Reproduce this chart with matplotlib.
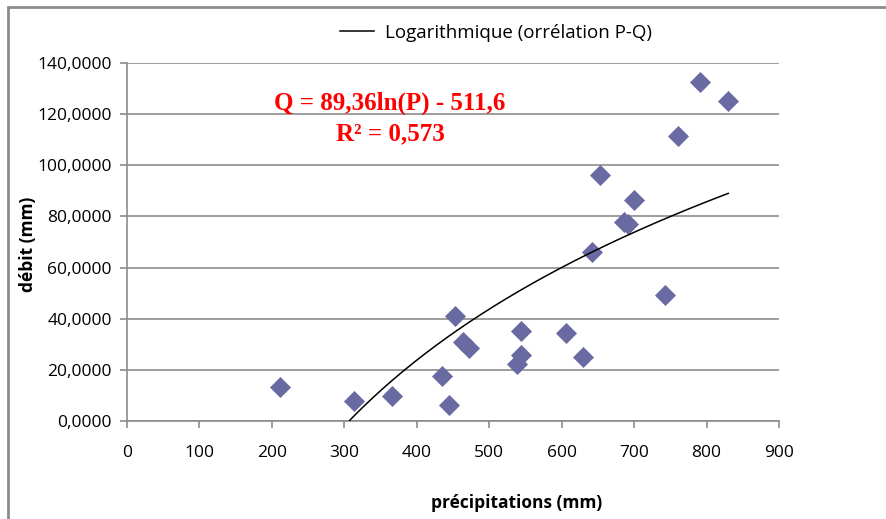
import numpy as np
import matplotlib
matplotlib.use("Agg")
import matplotlib.pyplot as plt
from matplotlib.patches import Rectangle
from matplotlib.ticker import FuncFormatter

# Data
precip = [211, 313, 366, 435, 445, 453, 464, 472, 538, 544, 544, 606, 630, 642, 653, 686, 692, 700, 743, 761, 791, 830]
debit = [13.3, 7.8, 9.8, 17.6, 6.3, 41.1, 30.9, 28.5, 22.3, 25.8, 35.2, 34.4, 25.0, 66.1, 96.2, 77.8, 77.1, 86.4, 49.3, 111.5, 132.6, 125.1]
coef_a = 89.36
coef_b = -511.6
x_ticks = [0, 100, 200, 300, 400, 500, 600, 700, 800, 900]
y_ticks = [0, 20, 40, 60, 80, 100, 120, 140]

plt.rcParams['font.family'] = ['Open Sans', 'DejaVu Sans']

fig = plt.figure(figsize=(8.87, 5.19), dpi=100)
ax = fig.add_axes([127/887, 1-421/519, (779-127)/887, (421-63)/519])

gray = '#8c8c8c'
ax.set_xlim(0, 900)
ax.set_ylim(0, 140)
ax.set_xticks(x_ticks)
ax.set_yticks(y_ticks)
ax.yaxis.set_major_formatter(FuncFormatter(lambda v, p: f"{v:.4f}".replace('.', ',')))
ax.grid(axis='y', color=gray, linewidth=1.2)
ax.set_axisbelow(True)
for s in ['top', 'right']:
    ax.spines[s].set_visible(False)
for s in ['left', 'bottom']:
    ax.spines[s].set_color(gray)
    ax.spines[s].set_linewidth(1.2)
ax.tick_params(axis='both', colors=gray, labelcolor='black', labelsize=12.5, length=5, width=1.2)
ax.tick_params(axis='x', pad=12)
ax.tick_params(axis='y', pad=6)

ax.scatter(precip, debit, marker='D', s=115, color='#6a6aa2', zorder=3, linewidths=0)

xs = np.linspace(min(precip), max(precip), 400)
ys = coef_a * np.log(xs) + coef_b
mask = ys >= 0
ax.plot(xs[mask], ys[mask], color='black', linewidth=1.1, zorder=4,
        label='Logarithmique (orrélation P-Q)')

ax.text(363, 124.4, 'Q = 89,36ln(P) - 511,6', color='#ff0000', fontsize=18, fontweight='bold',
        family='Liberation Serif', ha='center', va='center')
ax.text(363, 112.2, 'R² = 0,573', color='#ff0000', fontsize=18, fontweight='bold',
        family='Liberation Serif', ha='center', va='center')

fig.text(517/887, 1-503/519, 'précipitations (mm)', fontsize=12.5, fontweight='bold', ha='center', va='center')
fig.text(28/887, 1-244/519, 'débit (mm)', fontsize=12.5, fontweight='bold', ha='center', va='center', rotation=90)

leg = fig.legend(loc='center', bbox_to_anchor=(496/887, 1-33/519), frameon=False, fontsize=13.5,
                 handlelength=1.8, handletextpad=0.55)

fig.patches.append(Rectangle((8.5/887, -0.1), 1.2, 1.1 - 7/519, transform=fig.transFigure,
                             fill=False, edgecolor=gray, linewidth=2))

fig.savefig('out.png', dpi=100)
